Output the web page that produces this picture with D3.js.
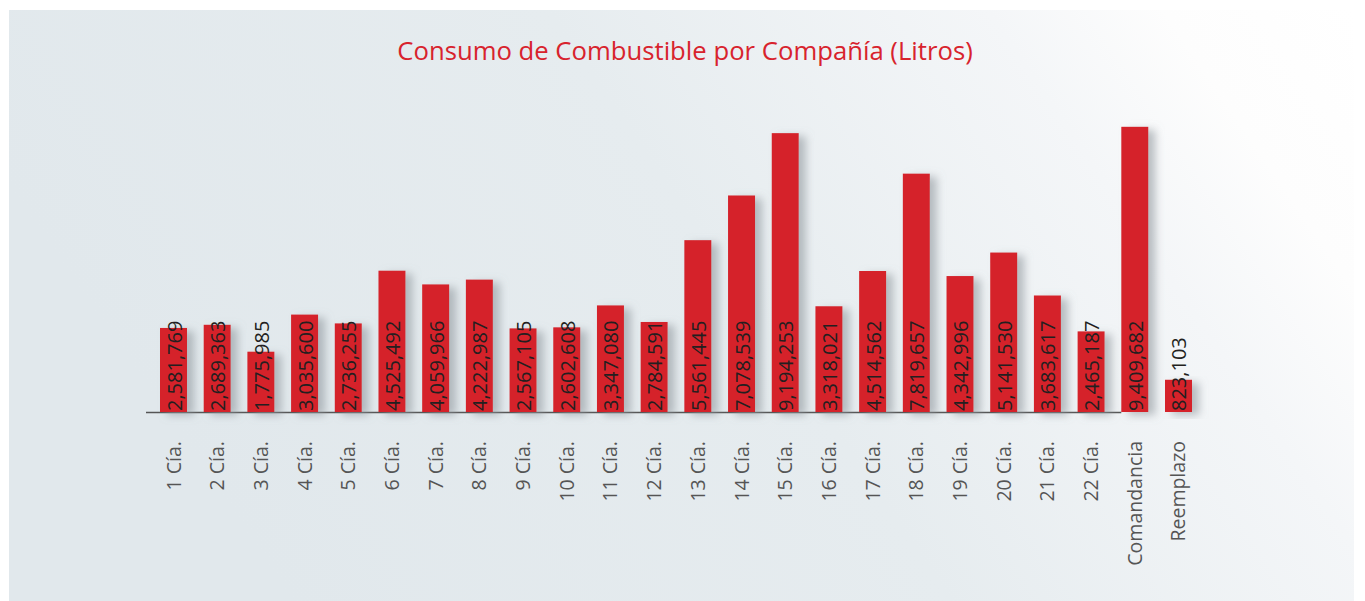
<!DOCTYPE html>
<html>
<head>
<meta charset="utf-8">
<script src="https://cdn.jsdelivr.net/npm/d3@7"></script>
<style>
  html, body { margin: 0; padding: 0; background: #fff; }
  svg { display: block; }
</style>
</head>
<body>
<div id="chart"></div>
<script>
// data
var categories = ["1 Cía.", "2 Cía.", "3 Cía.", "4 Cía.", "5 Cía.", "6 Cía.", "7 Cía.", "8 Cía.",
    "9 Cía.", "10 Cía.", "11 Cía.", "12 Cía.", "13 Cía.", "14 Cía.", "15 Cía.", "16 Cía.",
    "17 Cía.", "18 Cía.", "19 Cía.", "20 Cía.", "21 Cía.", "22 Cía.", "Comandancia", "Reemplazo"];
var litros = [2581769, 2689363, 1775985, 3035600, 2736255, 4525492, 4059966, 4222987,
    2567105, 2602608, 3347080, 2784591, 5561445, 7078539, 9194253, 3318021,
    4514562, 7819657, 4342996, 5141530, 3683617, 2465187, 9409682, 823103];
var title = "Consumo de Combustible por Compañía (Litros)";

var width = 1365;
var height = 601;
var baseline = 412;

var svg = d3.select("#chart").append("svg")
    .attr("width", width)
    .attr("height", height);

var defs = svg.append("defs");

// soft grey-blue to white backdrop
var grad = defs.append("linearGradient")
    .attr("id", "bg")
    .attr("x1", "0").attr("y1", "0.3")
    .attr("x2", "1").attr("y2", "0");
grad.append("stop").attr("offset", "0").attr("stop-color", "#e1e8ec");
grad.append("stop").attr("offset", "0.45").attr("stop-color", "#e6ecef");
grad.append("stop").attr("offset", "0.75").attr("stop-color", "#f4f6f8");
grad.append("stop").attr("offset", "0.87").attr("stop-color", "#fdfdfd");
grad.append("stop").attr("offset", "1").attr("stop-color", "#ffffff");

var shadow = defs.append("filter")
    .attr("id", "shadow")
    .attr("x", "-20%").attr("y", "-10%")
    .attr("width", "180%").attr("height", "130%");
shadow.append("feDropShadow")
    .attr("dx", 7).attr("dy", 3)
    .attr("stdDeviation", 4)
    .attr("flood-color", "#8f979c")
    .attr("flood-opacity", 0.6);

svg.append("rect")
    .attr("x", 9).attr("y", 10)
    .attr("width", 1345).attr("height", 591)
    .attr("fill", "url(#bg)");

svg.append("text")
    .attr("x", 685).attr("y", 60)
    .attr("text-anchor", "middle")
    .attr("font-family", "'Open Sans', sans-serif")
    .attr("font-size", 25.7)
    .attr("fill", "#d8232d")
    .text(title);

var x = d3.scaleBand()
    .domain(categories)
    .range([160, 1192])
    .paddingInner(0.382)
    .paddingOuter(0);

var y = d3.scaleLinear()
    .domain([0, 10000000])
    .range([404, 109.4]);

var fmt = d3.format(",");

// axis line stops at the Comandancia bar
svg.append("line")
    .attr("x1", 146).attr("x2", x("Comandancia"))
    .attr("y1", baseline + 0.5).attr("y2", baseline + 0.5)
    .attr("stroke", "#555")
    .attr("stroke-width", 1.5);

var data = categories.map(function(c, i) {
    return { cat: c, value: litros[i] };
});

svg.append("g").selectAll("rect")
    .data(data)
    .enter()
    .append("rect")
    .attr("x", function(d) { return x(d.cat); })
    .attr("y", function(d) { return y(d.value); })
    .attr("width", x.bandwidth())
    .attr("height", function(d) { return baseline - y(d.value); })
    .attr("fill", "#d5222a")
    .attr("filter", "url(#shadow)");

svg.append("g").selectAll("text")
    .data(data)
    .enter()
    .append("text")
    .attr("transform", function(d) {
        return "translate(" + (x(d.cat) + x.bandwidth() / 2 + 8) + "," + (baseline - 1) + ") rotate(-90)";
    })
    .attr("font-family", "'Open Sans', sans-serif")
    .attr("font-size", 20)
    .attr("fill", "#231f20")
    .text(function(d) { return fmt(d.value); });

svg.append("g").selectAll("text")
    .data(data)
    .enter()
    .append("text")
    .attr("transform", function(d) {
        return "translate(" + (x(d.cat) + x.bandwidth() / 2 + 7) + ",441) rotate(-90)";
    })
    .attr("text-anchor", "end")
    .attr("font-family", "'Open Sans', sans-serif")
    .attr("font-size", 19.5)
    .attr("fill", "#555")
    .text(function(d) { return d.cat; });
</script>
</body>
</html>
